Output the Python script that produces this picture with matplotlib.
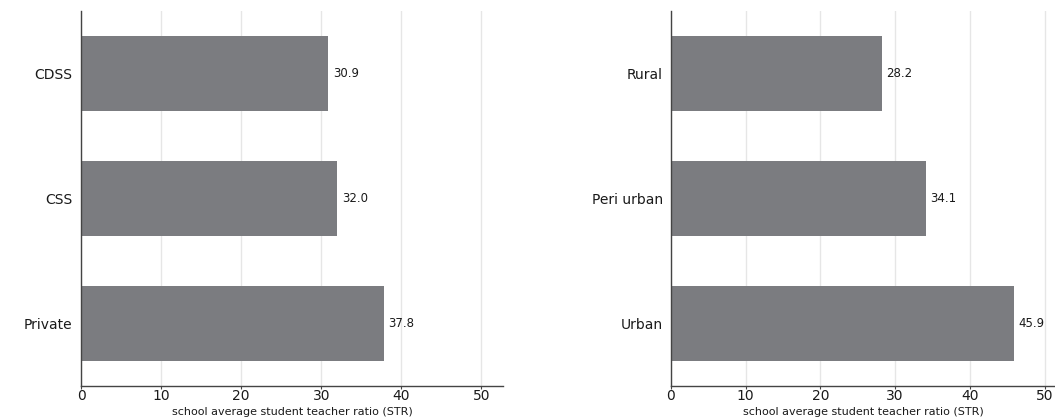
import matplotlib.pyplot as plt
import numpy as np

plt.rcParams['font.family'] = ['DejaVu Sans']

# school type panel
type_labels = ['CDSS', 'CSS', 'Private']
type_values = [30.9, 32.0, 37.8]

# location panel
loc_labels = ['Rural', 'Peri urban', 'Urban']
loc_values = [28.2, 34.1, 45.9]

xticks = [0, 10, 20, 30, 40, 50]
xlabel = 'school average student teacher ratio (STR)'

bar_color = '#7b7c80'
axis_color = '#444444'
text_color = '#1a1a1a'

fig = plt.figure(figsize=(10.55, 4.17), dpi=100)
ax1 = fig.add_axes([0.0768, 0.0743, 0.400, 0.8993])
ax2 = fig.add_axes([0.636, 0.0743, 0.364, 0.8993])


def draw_panel(ax, labels, values, xmax):
    y = np.arange(len(labels))
    ax.barh(y, values, height=0.6, color=bar_color, zorder=2)
    for yi, v in zip(y, values):
        ax.text(v + 0.6, yi, f'{v:.1f}', va='center', ha='left', fontsize=8.5, color=text_color)
    ax.set_ylim(2.5, -0.5)
    ax.set_xlim(0, xmax)
    ax.set_yticks(y)
    ax.set_yticklabels(labels, fontsize=10, color=text_color)
    ax.tick_params(axis='y', length=0, pad=6)
    ax.set_xticks(xticks)
    ax.set_xticklabels([str(t) for t in xticks], fontsize=10, color=text_color)
    ax.tick_params(axis='x', length=2.5, width=0.8, color=axis_color, pad=0)
    ax.xaxis.grid(True, color='#e6e6e6', linewidth=1, zorder=0)
    ax.set_axisbelow(True)
    ax.set_xlabel(xlabel, fontsize=8, color=text_color, va='bottom')
    # put the axis title flush with the bottom edge of the figure
    ax.xaxis.set_label_coords(0.5, -0.082)
    for s in ['top', 'right']:
        ax.spines[s].set_visible(False)
    for s in ['left', 'bottom']:
        ax.spines[s].set_color(axis_color)
        ax.spines[s].set_linewidth(1)


draw_panel(ax1, type_labels, type_values, 52.7)
draw_panel(ax2, loc_labels, loc_values, 51.4)

fig.savefig('out.png', dpi=100)
